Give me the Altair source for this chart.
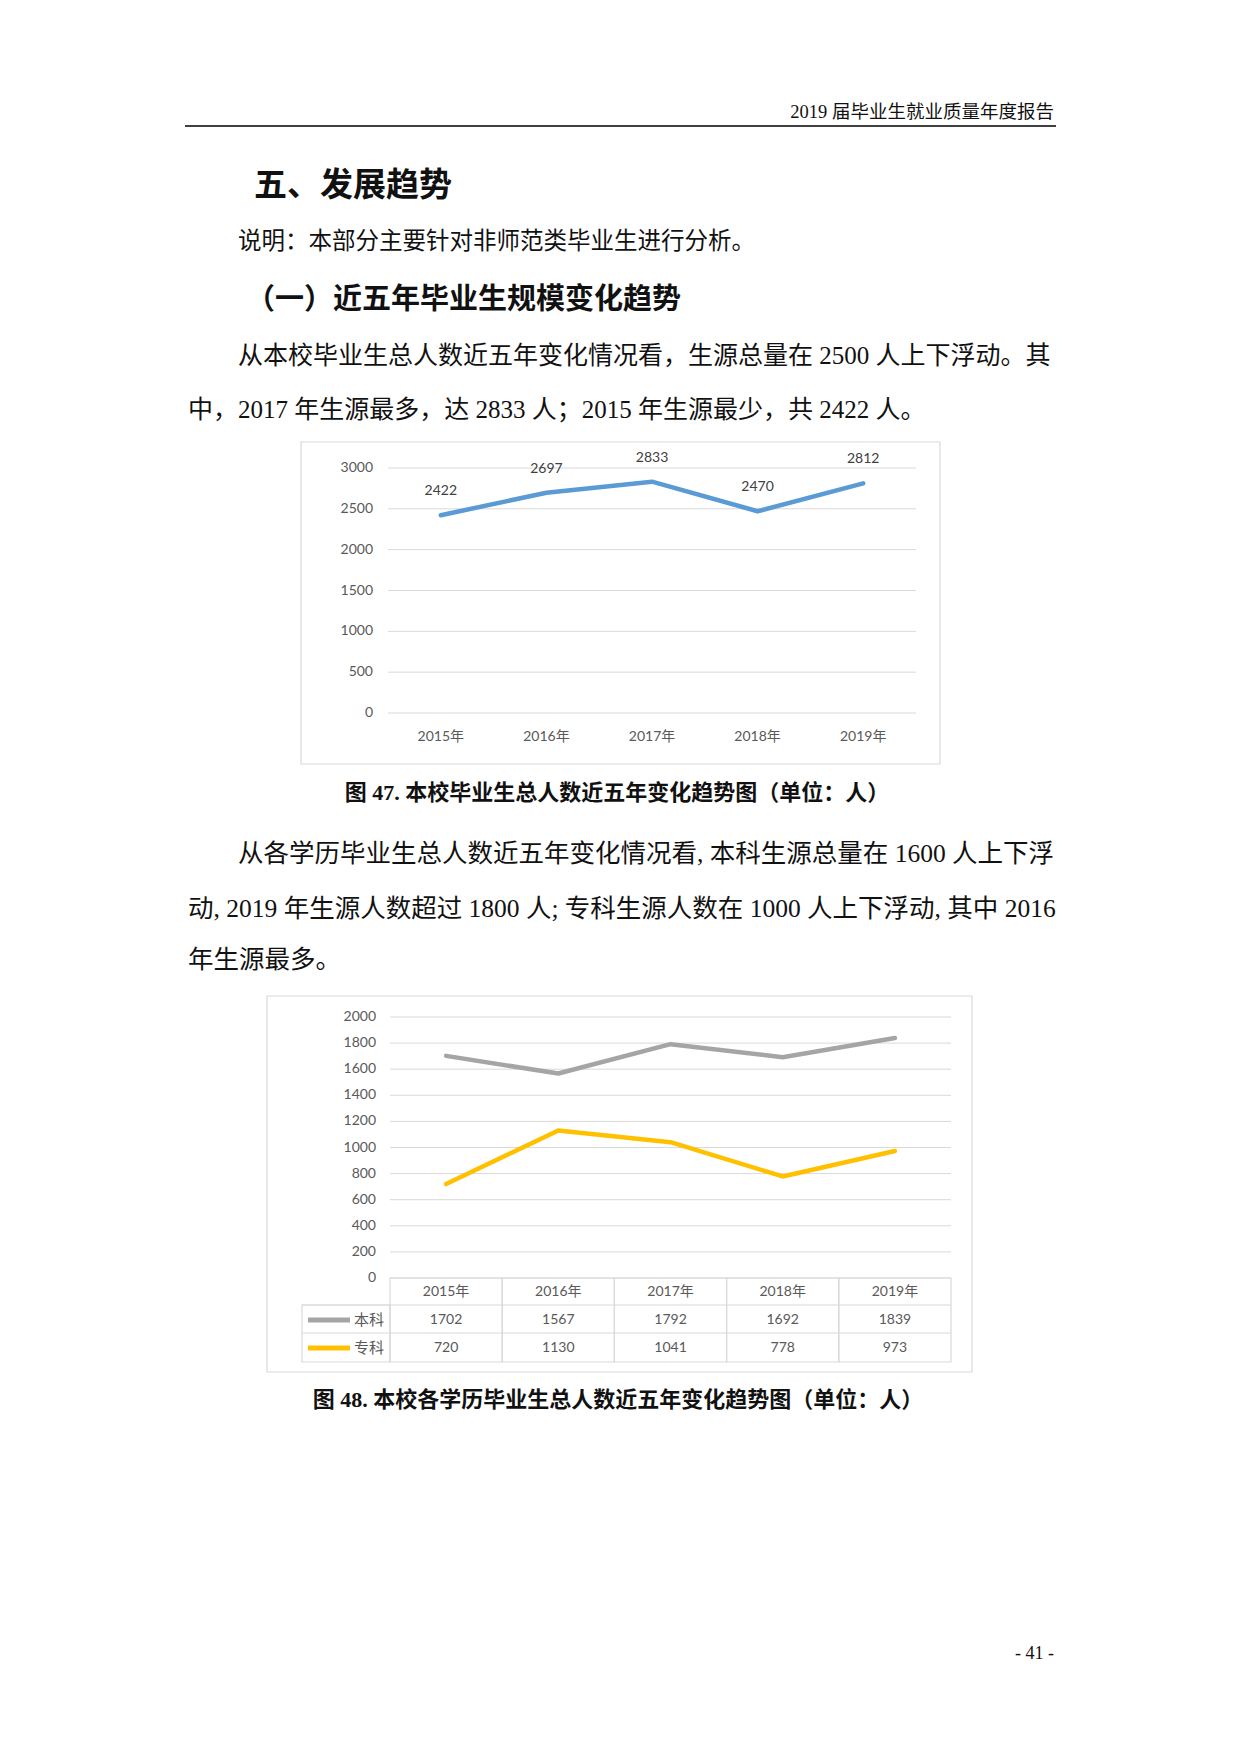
import altair as alt
import pandas as pd

# ---------------- data ----------------
years = ["2015年", "2016年", "2017年", "2018年", "2019年"]
total = [2422, 2697, 2833, 2470, 2812]
benke = [1702, 1567, 1792, 1692, 1839]
zhuanke = [720, 1130, 1041, 778, 973]
ticks1 = [0, 500, 1000, 1500, 2000, 2500, 3000]
ticks2 = [0, 200, 400, 600, 800, 1000, 1200, 1400, 1600, 1800, 2000]
series_names = ["本科", "专科"]

header = "2019 届毕业生就业质量年度报告"
title = "五、发展趋势"
note = "说明：本部分主要针对非师范类毕业生进行分析。"
subtitle = "（一）近五年毕业生规模变化趋势"
para1 = [
    "从本校毕业生总人数近五年变化情况看，生源总量在 2500 人上下浮动。其",
    "中，2017 年生源最多，达 2833 人；2015 年生源最少，共 2422 人。",
]
para2 = [
    "从各学历毕业生总人数近五年变化情况看, 本科生源总量在  1600  人上下浮",
    "动, 2019 年生源人数超过 1800 人; 专科生源人数在 1000 人上下浮动, 其中 2016",
    "年生源最多。",
]
cap1 = "图 47. 本校毕业生总人数近五年变化趋势图（单位：人）"
cap2 = "图 48. 本校各学历毕业生总人数近五年变化趋势图（单位：人）"
page_no = "- 41 -"

SERIF = "Liberation Serif, Noto Sans CJK SC"
SANS = "Noto Sans CJK SC"
CHART_FONT = "Lato, Noto Sans CJK SC"
GRID = "#D9D9D9"
LABEL = "#595959"


def text(s, x, y, size, weight="normal", align="left", font=SERIF, color="#111111"):
    return alt.Chart(alt.Data(values=[{"t": s}])).mark_text(
        align=align, baseline="middle", fontSize=size, fontWeight=weight,
        font=font, color=color
    ).encode(text="t:N", x=alt.value(x), y=alt.value(y))


def box(x1, x2, y1, y2, color=GRID, width=1.2):
    return alt.Chart(alt.Data(values=[{}])).mark_rect(
        filled=False, color=color, strokeWidth=width
    ).encode(x=alt.value(x1), x2=alt.value(x2), y=alt.value(y1), y2=alt.value(y2))


def hrule(x1, x2, y, color=GRID, width=1.0):
    return alt.Chart(alt.Data(values=[{}])).mark_rule(
        color=color, strokeWidth=width
    ).encode(x=alt.value(x1), x2=alt.value(x2), y=alt.value(y))


layers = []

# ---------------- page text ----------------
layers.append(text(header, 1054, 112, 18.5, align="right"))
layers.append(hrule(185, 1056, 126, color="#000000", width=1.6))
layers.append(text(title, 254, 186, 33, weight="bold", font=SANS))
layers.append(text(note, 238, 242, 23.5))
layers.append(text(subtitle, 246, 300, 29, weight="bold", font=SANS))
layers.append(text(para1[0], 238, 356, 25))
layers.append(text(para1[1], 188, 410, 25))
layers.append(text(cap1, 617, 793, 22, weight="bold", align="center"))
layers.append(text(para2[0], 238, 854, 25.5))
layers.append(text(para2[1], 188, 909, 25.5))
layers.append(text(para2[2], 188, 960, 25.5))
layers.append(text(cap2, 618, 1400, 22, weight="bold", align="center"))
layers.append(text(page_no, 1054, 1654, 18, align="right"))

# ---------------- chart 1 ----------------
d1 = pd.DataFrame({"year": years, "v": total})
X1 = alt.Scale(type="point", domain=years, range=[388, 916], padding=0.5)
Y1 = alt.Scale(domain=[0, 3000], range=[713, 468], nice=False, zero=False)
t1 = pd.DataFrame({"t": ticks1})

layers.append(box(301, 940, 442, 764))
layers.append(
    alt.Chart(t1).mark_rule(color=GRID, strokeWidth=1).encode(
        y=alt.Y("t:Q", scale=Y1, axis=None), x=alt.value(388), x2=alt.value(916)
    )
)
layers.append(
    alt.Chart(t1).mark_text(align="right", baseline="middle", font=CHART_FONT,
                            fontSize=14, color=LABEL).encode(
        y=alt.Y("t:Q", scale=Y1, axis=None), x=alt.value(373),
        text=alt.Text("t:Q", format="d")
    )
)
layers.append(
    alt.Chart(d1).mark_text(baseline="middle", font=CHART_FONT, fontSize=14,
                            color=LABEL).encode(
        x=alt.X("year:N", scale=X1, axis=None), y=alt.value(737), text="year:N"
    )
)
layers.append(
    alt.Chart(d1).mark_line(color="#5B9BD5", strokeWidth=4.5, strokeCap="round",
                            strokeJoin="round").encode(
        x=alt.X("year:N", scale=X1, axis=None), y=alt.Y("v:Q", scale=Y1, axis=None)
    )
)
layers.append(
    alt.Chart(d1).mark_text(baseline="middle", dy=-24, font=CHART_FONT, fontSize=14,
                            color="#404040").encode(
        x=alt.X("year:N", scale=X1, axis=None), y=alt.Y("v:Q", scale=Y1, axis=None),
        text=alt.Text("v:Q", format="d")
    )
)

# ---------------- chart 2 ----------------
d2 = pd.DataFrame({"year": years, "b": benke, "z": zhuanke})
X2 = alt.Scale(type="point", domain=years, range=[390, 951], padding=0.5)
XB = alt.Scale(type="band", domain=years, range=[390, 951], paddingInner=0, paddingOuter=0)
Y2 = alt.Scale(domain=[0, 2000], range=[1278, 1017], nice=False, zero=False)
t2 = pd.DataFrame({"t": ticks2})

layers.append(box(267, 972, 996, 1372))
layers.append(
    alt.Chart(t2).mark_rule(color=GRID, strokeWidth=1).encode(
        y=alt.Y("t:Q", scale=Y2, axis=None), x=alt.value(390), x2=alt.value(951)
    )
)
layers.append(
    alt.Chart(t2).mark_text(align="right", baseline="middle", font=CHART_FONT,
                            fontSize=14, color=LABEL).encode(
        y=alt.Y("t:Q", scale=Y2, axis=None), x=alt.value(376),
        text=alt.Text("t:Q", format="d")
    )
)
# data table
layers.append(
    alt.Chart(d2).mark_rect(filled=False, color=GRID, strokeWidth=1.2).encode(
        x=alt.X("year:N", scale=XB, axis=None), y=alt.value(1278), y2=alt.value(1362)
    )
)
layers.append(hrule(302, 951, 1305, width=1.2))
layers.append(hrule(302, 951, 1333, width=1.2))
layers.append(box(302, 390, 1305, 1362))
layers.append(
    alt.Chart(d2).mark_text(baseline="middle", font=CHART_FONT, fontSize=14,
                            color=LABEL).encode(
        x=alt.X("year:N", scale=X2, axis=None), y=alt.value(1292), text="year:N"
    )
)
layers.append(
    alt.Chart(d2).mark_text(baseline="middle", font=CHART_FONT, fontSize=14,
                            color=LABEL).encode(
        x=alt.X("year:N", scale=X2, axis=None), y=alt.value(1320),
        text=alt.Text("b:Q", format="d")
    )
)
layers.append(
    alt.Chart(d2).mark_text(baseline="middle", font=CHART_FONT, fontSize=14,
                            color=LABEL).encode(
        x=alt.X("year:N", scale=X2, axis=None), y=alt.value(1348),
        text=alt.Text("z:Q", format="d")
    )
)
# legend inside table
layers.append(hrule(308, 350, 1320, color="#A5A5A5", width=5))
layers.append(hrule(308, 350, 1348, color="#FFC000", width=5))
layers.append(text(series_names[0], 354, 1320, 15, font=SANS, color=LABEL))
layers.append(text(series_names[1], 354, 1348, 15, font=SANS, color=LABEL))
# lines
layers.append(
    alt.Chart(d2).mark_line(color="#A5A5A5", strokeWidth=4.5, strokeCap="round",
                            strokeJoin="round").encode(
        x=alt.X("year:N", scale=X2, axis=None), y=alt.Y("b:Q", scale=Y2, axis=None)
    )
)
layers.append(
    alt.Chart(d2).mark_line(color="#FFC000", strokeWidth=4.5, strokeCap="round",
                            strokeJoin="round").encode(
        x=alt.X("year:N", scale=X2, axis=None), y=alt.Y("z:Q", scale=Y2, axis=None)
    )
)

chart = alt.layer(*layers).resolve_scale(
    x="independent", y="independent"
).properties(
    width=1241, height=1754, padding=0,
    autosize=alt.AutoSizeParams(type="none"),
    background="white",
).configure_view(strokeWidth=0)

chart.save("out.html", embed_options={"renderer": "svg", "actions": False})
